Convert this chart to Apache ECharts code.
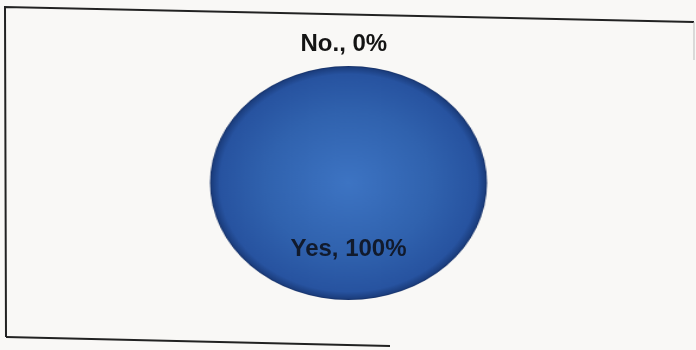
<!DOCTYPE html>
<html>
<head>
<meta charset="utf-8">
<script src="https://cdn.jsdelivr.net/npm/echarts@6/dist/echarts.min.js"></script>
<style>
  html, body { margin:0; padding:0; width:696px; height:350px; overflow:hidden; background:#f9f8f6; }
  #pieLayer { position:absolute; left:0; top:0; width:696px; height:350px; transform-origin:348.5px 183px; transform:scaleX(1.184); }
  #labelLayer { position:absolute; left:0; top:0; width:696px; height:350px; }
</style>
</head>
<body>
<div id="pieLayer"></div>
<div id="labelLayer"></div>
<script>
// Data
const categories = ['Yes', 'No.'];
const values = [100, 0];

const pieData = categories.map((c, i) => ({ name: c, value: values[i] }));

const center = [348.5, 183];
const radius = 117;

// Layer 1: the filled pie (stretched horizontally to the ellipse seen in the scan)
const pieChart = echarts.init(document.getElementById('pieLayer'), null, { renderer: 'canvas' });
pieChart.setOption({
  animation: false,
  backgroundColor: 'transparent',
  series: [{
    type: 'pie',
    center: center,
    radius: radius,
    startAngle: 90,
    clockwise: true,
    silent: true,
    label: { show: false },
    labelLine: { show: false },
    itemStyle: {
      borderWidth: 0,
      color: {
        type: 'radial', x: 0.5, y: 0.5, r: 0.5,
        colorStops: [
          { offset: 0, color: '#3d74c3' },
          { offset: 0.6, color: '#3062ae' },
          { offset: 0.93, color: '#2753a0' },
          { offset: 0.985, color: '#1c3f80' },
          { offset: 1, color: '#142f66' }
        ]
      }
    },
    data: pieData
  }]
});

// Layer 2: frame and data labels
const labelChart = echarts.init(document.getElementById('labelLayer'), null, { renderer: 'canvas' });
labelChart.setOption({
  animation: false,
  backgroundColor: 'transparent',
  graphic: [
    { type: 'polyline', shape: { points: [[6, 337], [5, 7], [694, 22]] },
      style: { stroke: '#222', lineWidth: 2, fill: null } },
    { type: 'polyline', shape: { points: [[694, 22], [694, 60]] },
      style: { stroke: '#bbb', lineWidth: 1, fill: null } },
    { type: 'polyline', shape: { points: [[6, 337], [390, 346]] },
      style: { stroke: '#222', lineWidth: 2, fill: null } }
  ],
  series: [{
    type: 'pie',
    center: center,
    radius: radius,
    startAngle: 90,
    clockwise: true,
    silent: true,
    itemStyle: { color: 'transparent', borderWidth: 0 },
    label: {
      show: true,
      formatter: '{b}, {d}%',
      fontFamily: 'Liberation Sans, Arial, sans-serif',
      fontWeight: 'bold',
      fontSize: 24,
      color: '#141414'
    },
    labelLine: { show: false, length: 22, length2: 0 },
    data: [
      { name: pieData[0].name, value: pieData[0].value,
        label: { position: 'inside', color: '#111a2c', offset: [0, 5] } },
      { name: pieData[1].name, value: pieData[1].value,
        label: { position: 'outside', offset: [-53, 0] } }
    ]
  }]
});
</script>
</body>
</html>
